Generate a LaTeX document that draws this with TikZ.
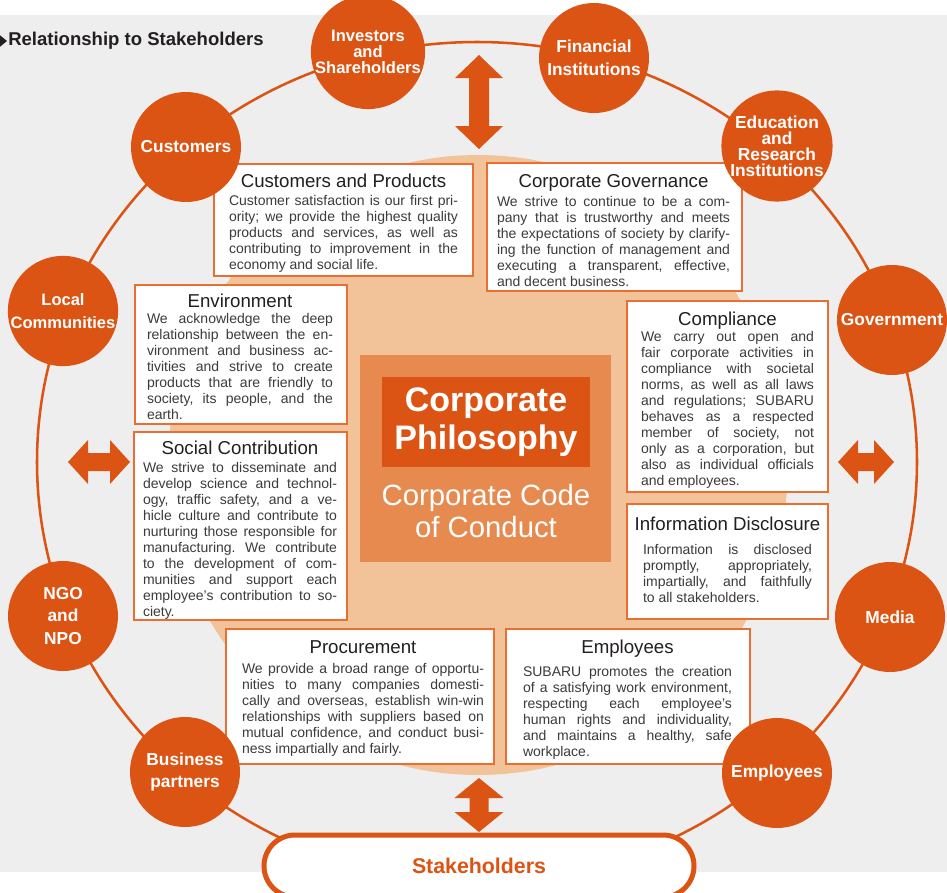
\documentclass[tikz,border=0pt]{standalone}
\usepackage{fontspec}
\setmainfont{Liberation Sans}
\setlength{\parindent}{0pt}
\frenchspacing
\tolerance=9999
\hbadness=10000
\hfuzz=2pt

\newlength\px
\setlength\px{0.75pt}

\definecolor{stakeorange}{RGB}{220,84,20}
\definecolor{boxorange}{RGB}{232,110,50}
\definecolor{peach}{RGB}{242,195,152}
\definecolor{midorange}{RGB}{230,138,80}
\definecolor{bggray}{RGB}{238,238,238}
\definecolor{textgray}{RGB}{62,58,57}
\definecolor{titlegray}{RGB}{35,31,32}

\newcommand{\boxhead}[2]{{\centering\color{titlegray}\fontsize{14}{16}\selectfont #1\par}\vspace{#2}}

\tikzset{
  stake/.style={circle, fill=stakeorange, text=white, minimum size=110\px, inner sep=0pt,
                align=center, font=\bfseries\fontsize{13}{17}\selectfont},
  stakesmall/.style={stake, font=\bfseries\fontsize{12.4}{12}\selectfont},
  boxline/.style={draw=boxorange, fill=white, line width=1.1pt},
  boxtext/.style={anchor=north, inner sep=0pt, align=justify, text=textgray,
                  font=\fontsize{10.5}{12}\selectfont},
  blockarrow/.style={fill=stakeorange},
  ring/.style={draw=stakeorange, line width=1.9pt},
  pill/.style={draw=stakeorange, fill=white, line width=3.75pt, rounded corners=31\px,
               minimum width=430\px, minimum height=62\px, text=stakeorange,
               font=\bfseries\fontsize{16}{19}\selectfont}
}

\begin{document}
\begin{tikzpicture}[x=0.75pt, y=-0.75pt]
\useasboundingbox (0,0) rectangle (947,893);
\fill[white] (0,0) rectangle (947,893);
\fill[bggray] (0,15) rectangle (947,872);

% heading
\fill[titlegray] (-4,32) -- (7,41) -- (-4,50) -- cycle;
\node[anchor=west, inner sep=0pt, text=titlegray, font=\bfseries\fontsize{13.9}{16}\selectfont] (heading) at (8,41) {Relationship to Stakeholders};

% stakeholder ring and philosophy disk
\draw[ring] (477,462) ellipse [x radius=440, y radius=420];
\fill[peach] (478,465) circle [radius=310];

% block arrows
\foreach \cx/\cy/\ang/\len/\hd/\hw/\sw in {479/102/90/47/23/24/10, 479/805/90/27/20/24.5/9.5, 99/462/0/31/20/22/9, 866/462/0/28/20/22/9} {
  \begin{scope}[shift={(\cx,\cy)}, rotate=\ang]
    \fill[blockarrow] (-\len,0) -- (-\len+\hd,-\hw) -- (-\len+\hd,-\sw) -- (\len-\hd,-\sw)
      -- (\len-\hd,-\hw) -- (\len,0) -- (\len-\hd,\hw) -- (\len-\hd,\sw)
      -- (-\len+\hd,\sw) -- (-\len+\hd,\hw) -- cycle;
  \end{scope}
}

% core
\node[fill=midorange, minimum width=251\px, minimum height=207\px, inner sep=0pt] (core) at (485.5,458.5) {};
\node[fill=stakeorange, minimum width=208\px, minimum height=90\px, inner sep=0pt, text=white, align=center,
      font=\bfseries\fontsize{25.5}{28.5}\selectfont] (philo) at (486,422) {Corporate\\Philosophy};
\node[text=white, align=center, font=\fontsize{22}{24}\selectfont] (code) at (486,511) {Corporate Code\\of Conduct};

% principle boxes
\draw[boxline] (214,164) rectangle (473,276);
\node[boxtext, text width=229\px] (custprod) at (343.5,174) {\boxhead{Customers and Products}{1.5pt}Customer satisfaction is our first pri-\linebreak ority; we provide the highest quality\linebreak products and services, as well as\linebreak contributing to improvement in the\linebreak economy and social life.};

\draw[boxline] (487,163) rectangle (742,291);
\node[boxtext, text width=233\px] (govern) at (613.5,174) {\boxhead{Corporate Governance}{2.5pt}We strive to continue to be a com-\linebreak pany that is trustworthy and meets\linebreak the expectations of society by clarify-\linebreak ing the function of management and\linebreak executing a transparent, effective,\linebreak and decent business.};

\draw[boxline] (135,285) rectangle (347,424);
\node[boxtext, text width=186\px] (environ) at (240,293.5) {\boxhead{Environment}{0.5pt}We acknowledge the deep\linebreak relationship between the en-\linebreak vironment and business ac-\linebreak tivities and strive to create\linebreak products that are friendly to\linebreak society, its people, and the\linebreak earth.};

\draw[boxline] (627,301) rectangle (828,492);
\node[boxtext, text width=173\px] (comply) at (727.5,311.5) {\boxhead{Compliance}{0.5pt}We carry out open and\linebreak fair corporate activities in\linebreak compliance with societal\linebreak norms, as well as all laws\linebreak and regulations; SUBARU\linebreak behaves as a respected\linebreak member of society, not\linebreak only as a corporation, but\linebreak also as individual officials\linebreak and employees.};

\draw[boxline] (134,432) rectangle (347,620);
\node[boxtext, text width=194\px] (social) at (240,441) {\boxhead{Social Contribution}{1pt}We strive to disseminate and\linebreak develop science and technol-\linebreak ogy, traffic safety, and a ve-\linebreak hicle culture and contribute to\linebreak nurturing those responsible for\linebreak manufacturing. We contribute\linebreak to the development of com-\linebreak munities and support each\linebreak employee's contribution to so-\linebreak ciety.};

\draw[boxline] (627,504) rectangle (828,619);
\node[boxtext, text width=169\px] (disclose) at (727.5,517) {\boxhead{\makebox[\linewidth]{Information Disclosure}}{5.5pt}Information is disclosed\linebreak promptly, appropriately,\linebreak impartially, and faithfully\linebreak to all stakeholders.};

\draw[boxline] (226,629) rectangle (494,764);
\node[boxtext, text width=242\px] (procure) at (363,640) {\boxhead{Procurement}{3.2pt}We provide a broad range of opportu-\linebreak nities to many companies domesti-\linebreak cally and overseas, establish win-win\linebreak relationships with suppliers based on\linebreak mutual confidence, and conduct busi-\linebreak ness impartially and fairly.};

\draw[boxline] (506,629) rectangle (750,764);
\node[boxtext, text width=209\px] (employ) at (627.5,640) {\boxhead{Employees}{4.7pt}SUBARU promotes the creation\linebreak of a satisfying work environment,\linebreak respecting each employee's\linebreak human rights and individuality,\linebreak and maintains a healthy, safe\linebreak workplace.};

% stakeholders on the ring
\foreach \nm/\x/\y/\lab in {cust/186/147/Customers, fin/594/58/{Financial\\Institutions}, gov/892/320/Government, media/890/617/Media, emp/777/773/Employees, biz/185/772/{Business\\partners}, ngo/63/616/{NGO\\and\\NPO}}
  \node[stake] (\nm) at (\x,\y) {\lab};
\node[stakesmall] (inv) at (368,52) {Investors\\and\\Shareholders};
\node[stakesmall, font=\bfseries\fontsize{13}{12}\selectfont] (edu) at (777,146) {Education\\and\\Research\\Institutions};
\node[stake, font=\bfseries\fontsize{12.4}{17}\selectfont] (loc) at (63,311) {Local\\Communities};

\node[pill] (stakeholders) at (479,866) {Stakeholders};
\end{tikzpicture}
\end{document}
